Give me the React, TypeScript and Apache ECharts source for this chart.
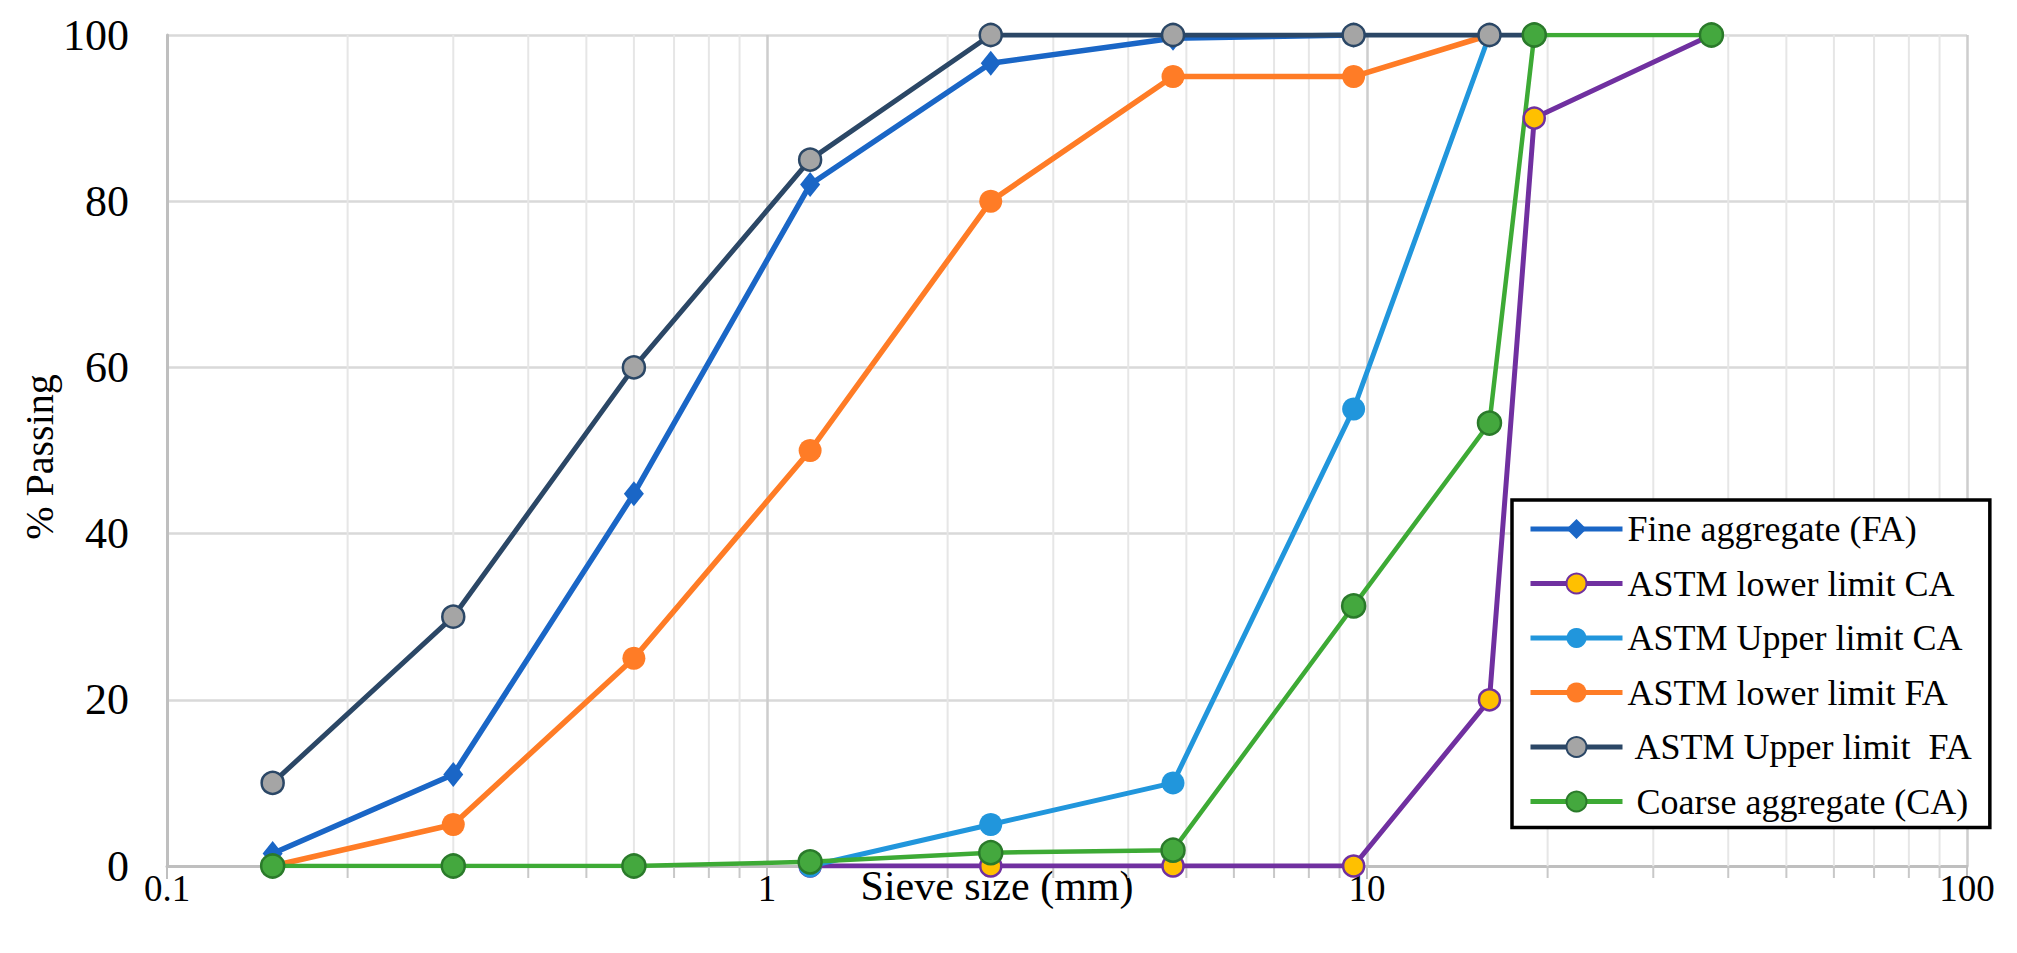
import React, { useEffect, useRef } from "react";
import * as echarts from "echarts";

const FONT = "'Liberation Serif', 'Times New Roman', serif";

const seriesNames = [
  "Fine aggregate (FA)",
  "ASTM lower limit CA",
  "ASTM Upper limit CA",
  "ASTM lower limit FA",
  " ASTM Upper limit  FA",
  " Coarse aggregate (CA)",
];

// sieve sizes (mm) and % passing
const fineAggX = [0.15, 0.3, 0.6, 1.18, 2.36, 4.75, 9.5];
const fineAggY = [1.5, 11, 44.8, 82, 96.6, 99.6, 100];

const lowerCAX = [1.18, 2.36, 4.75, 9.5, 16, 19, 37.5];
const lowerCAY = [0, 0, 0, 0, 20, 90, 100];

const upperCAX = [1.18, 2.36, 4.75, 9.5, 16];
const upperCAY = [0, 5, 10, 55, 100];

const lowerFAX = [0.15, 0.3, 0.6, 1.18, 2.36, 4.75, 9.5, 16];
const lowerFAY = [0, 5, 25, 50, 80, 95, 95, 100];

const upperFAX = [0.15, 0.3, 0.6, 1.18, 2.36, 4.75, 9.5, 16, 19];
const upperFAY = [10, 30, 60, 85, 100, 100, 100, 100, 100];

const coarseX = [0.15, 0.3, 0.6, 1.18, 2.36, 4.75, 9.5, 16, 19, 37.5];
const coarseY = [0, 0, 0, 0.5, 1.6, 1.9, 31.3, 53.3, 100, 100];

const minorTicks = [
  0.2, 0.3, 0.4, 0.5, 0.6, 0.7, 0.8, 0.9,
  2, 3, 4, 5, 6, 7, 8, 9,
  20, 30, 40, 50, 60, 70, 80, 90,
];

const zip = (xs: number[], ys: number[]) => xs.map((x, i) => [x, ys[i]]);

export default function App() {
  const ref = useRef<HTMLDivElement>(null);
  useEffect(() => {
    if (!ref.current) return;
    const chart = echarts.init(ref.current, null, { renderer: "svg" });

    const lineSeries = (
      name: string,
      data: number[][],
      color: string,
      width: number,
      symbol: string,
      symbolSize: any,
      fill: string,
      border: string,
      borderWidth: number
    ) => ({
      type: "line",
      name,
      data,
      z: 3,
      symbol,
      symbolSize,
      showAllSymbol: true,
      lineStyle: { color, width },
      itemStyle: { color: fill, borderColor: border, borderWidth },
      emphasis: { disabled: true },
    });

    chart.setOption({
      animation: false,
      backgroundColor: "#ffffff",
      grid: { left: 167, right: 50, top: 35, bottom: 87 },
      xAxis: {
        type: "log",
        logBase: 10,
        min: 0.1,
        max: 100,
        axisLine: { show: true, onZero: false, lineStyle: { color: "#BFBFBF", width: 3 } },
        axisTick: { show: true, length: 13, lineStyle: { color: "#BFBFBF", width: 2 } },
        axisLabel: {
          fontFamily: FONT,
          fontSize: 37,
          color: "#000",
          margin: 4,
          formatter: (v: number) => String(Number(v.toPrecision(3))),
        },
        splitLine: { show: true, lineStyle: { color: "#CDCDCD", width: 2.5 } },
      },
      yAxis: {
        type: "value",
        min: 0,
        max: 100,
        interval: 20,
        axisLine: { show: true, lineStyle: { color: "#BFBFBF", width: 3 } },
        axisTick: { show: false },
        axisLabel: { fontFamily: FONT, fontSize: 44, color: "#000", margin: 38 },
        splitLine: { show: true, lineStyle: { color: "#D9D9D9", width: 2.5 } },
      },
      legend: {
        orient: "vertical",
        left: 1512,
        top: 500,
        padding: [9, 16, 6, 16],
        itemGap: 14.5,
        itemWidth: 92,
        itemHeight: 25,
        backgroundColor: "#ffffff",
        borderColor: "#000000",
        borderWidth: 3.5,
        borderRadius: 0,
        data: seriesNames,
        lineStyle: { width: 5 },
        textStyle: { fontFamily: FONT, fontSize: 36, color: "#000", lineHeight: 40 },
        selectedMode: false,
      },
      graphic: [
        {
          type: "text",
          x: 39,
          y: 457,
          rotation: Math.PI / 2,
          style: {
            text: "% Passing",
            font: `40px ${FONT}`,
            fill: "#000",
            textAlign: "center",
            textVerticalAlign: "middle",
          },
        },
        {
          type: "text",
          x: 997,
          y: 886,
          style: {
            text: "Sieve size (mm)",
            font: `42px ${FONT}`,
            fill: "#000",
            textAlign: "center",
            textVerticalAlign: "middle",
          },
        },
      ],
      series: [
        {
          type: "custom",
          name: "minor",
          coordinateSystem: "cartesian2d",
          data: minorTicks.map((v) => [v, 0]),
          clip: false,
          silent: true,
          z: 1,
          renderItem: (_params: any, api: any) => {
            const v = api.value(0);
            const p0 = api.coord([v, 0]);
            const p1 = api.coord([v, 100]);
            return {
              type: "group",
              children: [
                {
                  type: "line",
                  shape: { x1: p0[0], y1: p0[1], x2: p1[0], y2: p1[1] },
                  style: { stroke: "#E6E6E6", lineWidth: 2 },
                },
                {
                  type: "line",
                  shape: { x1: p0[0], y1: p0[1], x2: p0[0], y2: p0[1] + 12 },
                  style: { stroke: "#C8C8C8", lineWidth: 2 },
                },
              ],
            };
          },
        },
        lineSeries(seriesNames[0], zip(fineAggX, fineAggY), "#1A66C6", 5.5, "diamond", [20, 25], "#1A66C6", "#1A66C6", 0),
        lineSeries(seriesNames[1], zip(lowerCAX, lowerCAY), "#7030A0", 5, "circle", 21, "#FFC000", "#7030A0", 2.5),
        lineSeries(seriesNames[2], zip(upperCAX, upperCAY), "#2196DC", 5, "circle", 23, "#2196DC", "#2196DC", 0),
        lineSeries(seriesNames[3], zip(lowerFAX, lowerFAY), "#FF7C26", 5.5, "circle", 23, "#FF7C26", "#FF7C26", 0),
        lineSeries(seriesNames[4], zip(upperFAX, upperFAY), "#2B4766", 5, "circle", 22, "#A5A5A5", "#2B4766", 2.5),
        lineSeries(seriesNames[5], zip(coarseX, coarseY), "#3DAA35", 4.5, "circle", 23, "#44A83E", "#2A7A2A", 2.5),
      ],
    });
    return () => chart.dispose();
  }, []);
  return (
    <div
      ref={ref}
      style={{ position: "fixed", left: 0, top: 0, width: 2017, height: 953, background: "#fff" }}
    />
  );
}
